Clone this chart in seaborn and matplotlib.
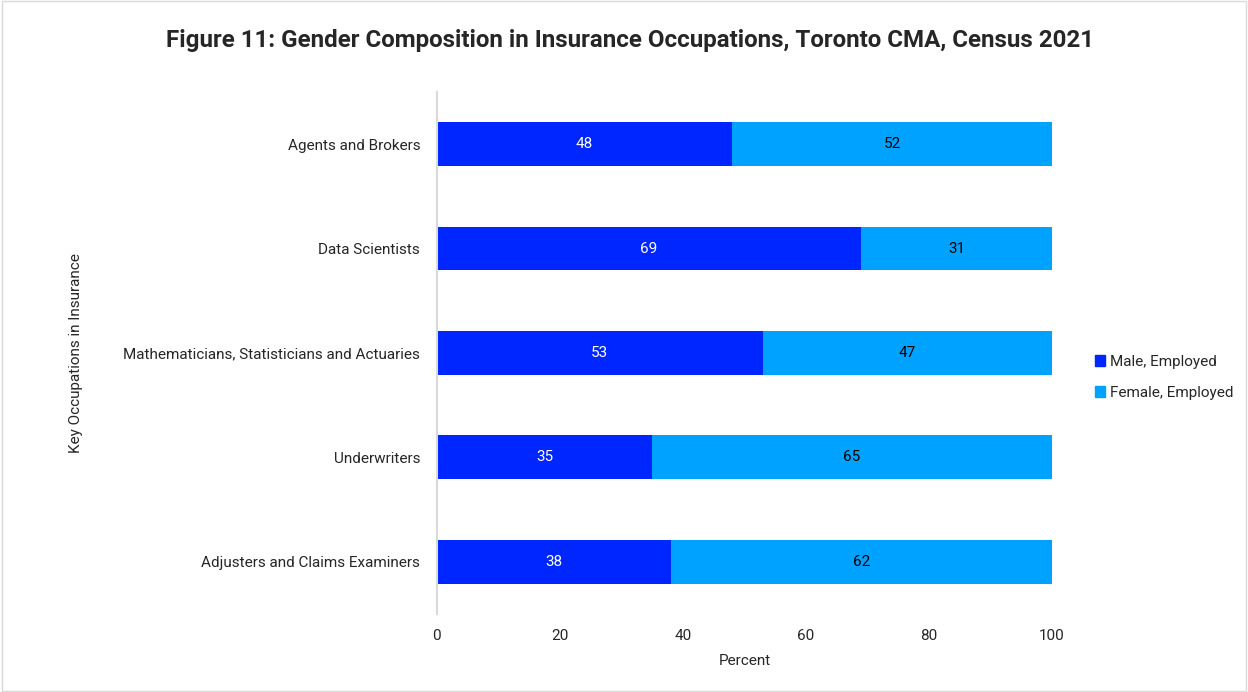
import matplotlib
matplotlib.use("Agg")
import matplotlib.pyplot as plt
import seaborn as sns
import pandas as pd
from matplotlib.patches import Patch, Rectangle

categories = ["Agents and Brokers", "Data Scientists",
              "Mathematicians, Statisticians and Actuaries",
              "Underwriters", "Adjusters and Claims Examiners"]
male = [48, 69, 53, 35, 38]
female = [52, 31, 47, 65, 62]
x_ticks = [0, 20, 40, 60, 80, 100]

MALE_C = "#0026FF"
FEMALE_C = "#00A2FF"

sns.set_theme(style="white")
plt.rcParams["font.family"] = ["Roboto", "DejaVu Sans"]

df = pd.DataFrame({"cat": categories, "male": male, "female": female})
df["total"] = df["male"] + df["female"]

fig = plt.figure(figsize=(12.48, 6.92), dpi=100)
ax = fig.add_axes([0.350, 0.113, 0.493, 0.754])

sns.barplot(data=df, y="cat", x="total", color=FEMALE_C, orient="h",
            width=0.42, ax=ax, saturation=1, linewidth=0)
sns.barplot(data=df, y="cat", x="male", color=MALE_C, orient="h",
            width=0.42, ax=ax, saturation=1, linewidth=0)

for i, (m, f) in enumerate(zip(male, female)):
    ax.text(m / 2, i, f"{m}", ha="center", va="center", color="white", fontsize=11)
    ax.text(m + f / 2, i, f"{f}", ha="center", va="center", color="black", fontsize=11)

ax.set_xlim(0, 100)
ax.set_ylim(4.5, -0.5)
ax.set_xticks(x_ticks)
ax.set_xticklabels([str(t) for t in x_ticks], fontsize=11)
ax.tick_params(axis="y", labelsize=11, length=0, pad=12)
ax.tick_params(axis="x", length=0, pad=11)
for s in ["top", "right", "bottom"]:
    ax.spines[s].set_visible(False)
ax.spines["left"].set_color("#d9d9d9")
ax.spines["left"].set_linewidth(1.5)
ax.set_xlabel("Percent", fontsize=11, labelpad=8)
ax.set_ylabel("")
fig.text(0.061, 0.49, "Key Occupations in Insurance", rotation=90,
         ha="center", va="center", fontsize=11)

fig.suptitle("Figure 11: Gender Composition in Insurance Occupations, Toronto CMA, Census 2021",
             x=0.505, y=0.942, va="center", fontsize=17.4, fontweight="bold")

handles = [Patch(color=MALE_C, label="Male, Employed"),
           Patch(color=FEMALE_C, label="Female, Employed")]
fig.legend(handles=handles, loc="center left", bbox_to_anchor=(0.866, 0.455),
           frameon=False, fontsize=11, handlelength=0.7, handleheight=0.7,
           handletextpad=0.3, labelspacing=1.1)

fig.patches.append(Rectangle((0.002, 0.002), 0.996, 0.996, transform=fig.transFigure,
                             fill=False, edgecolor="#d9d9d9", linewidth=1))

fig.savefig("out.png", dpi=100)
